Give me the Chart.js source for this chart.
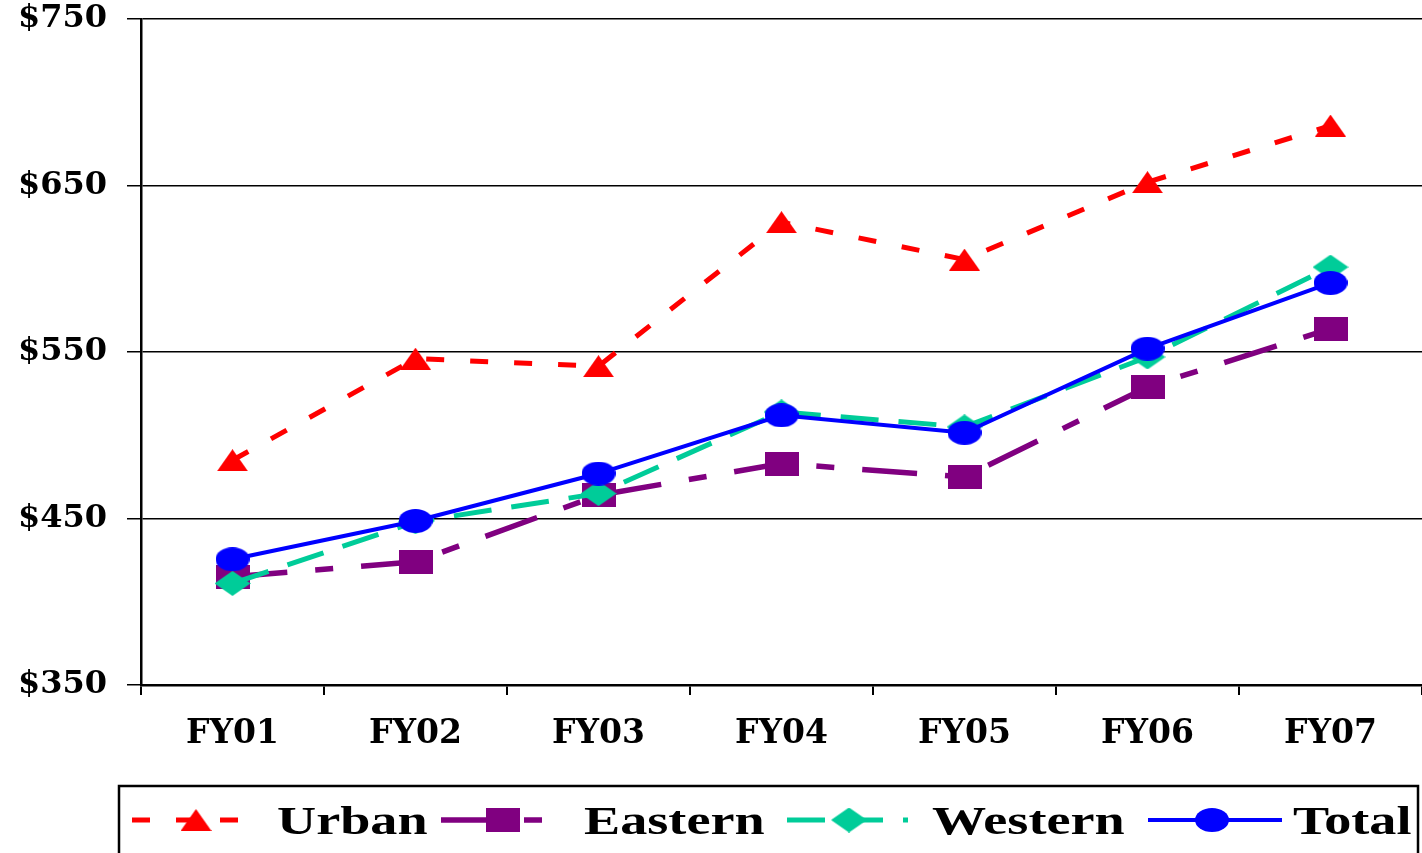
<!DOCTYPE html>
<html><head><meta charset="utf-8">
<script src="https://cdn.jsdelivr.net/npm/chart.js@4"></script>
<style>html,body{margin:0;padding:0;background:#fff;overflow:hidden}canvas{display:block}</style>
</head><body>
<canvas id="c" width="1422" height="853" style="width:1422px;height:853px"></canvas>
<script>
// ---- data ----
const categories = ['FY01','FY02','FY03','FY04','FY05','FY06','FY07'];
const urban   = [485, 546, 541.5, 628, 605.5, 652, 686];
const eastern = [415, 424, 464, 483, 475, 529, 564];
const western = [411, 448, 465, 514, 505, 547, 601];
const total   = [425.5, 448.5, 477, 512, 501.5, 552, 591.5];
const seriesNames = ['Urban','Eastern','Western','Total'];
const yTicks = [350, 450, 550, 650, 750];

// ---- markers ----
function makeMarker(shape, w, h, color){
  const c = document.createElement('canvas'); c.width = w; c.height = h;
  const g = c.getContext('2d'); g.fillStyle = color; g.beginPath();
  if (shape === 'triangle'){ g.moveTo(w/2,0); g.lineTo(w,h); g.lineTo(0,h); }
  else if (shape === 'rect'){ g.rect(0,0,w,h); }
  else if (shape === 'diamond'){ g.moveTo(w/2,0); g.lineTo(w,h/2); g.lineTo(w/2,h); g.lineTo(0,h/2); }
  else { g.ellipse(w/2,h/2,w/2,h/2,0,0,Math.PI*2); }
  g.closePath(); g.fill(); return c;
}
const mTri = makeMarker('triangle', 31, 22, '#FF0000');
const mSq  = makeMarker('rect', 34, 24, '#800080');
const mDia = makeMarker('diamond', 36, 25, '#00CC99');
const mCir = makeMarker('ellipse', 34, 24, '#0000FF');

// legend layout
const LEG = {
  lineStart: [132, 441, 787, 1148],
  lineEnd:   [253, 553, 908, 1282],
  markerX:   [196, 503, 849, 1212],
  textX:     [277, 584, 932, 1293],
  y: 820
};

const legendPlugin = {
  id: 'customLegend',
  afterDraw(chart){
    const ctx = chart.ctx; ctx.save();
    ctx.strokeStyle = '#000'; ctx.lineWidth = 2.5; ctx.setLineDash([]);
    ctx.strokeRect(119, 786, 1299, 90);
    chart.data.datasets.forEach((ds, i) => {
      const y = LEG.y;
      ctx.strokeStyle = ds.borderColor; ctx.lineWidth = ds.borderWidth;
      ctx.setLineDash(ds.borderDash || []);
      ctx.beginPath(); ctx.moveTo(LEG.lineStart[i], y); ctx.lineTo(LEG.lineEnd[i], y); ctx.stroke();
      ctx.setLineDash([]);
      const img = ds.pointStyle;
      ctx.drawImage(img, LEG.markerX[i] - img.width/2, y - img.height/2);
      ctx.save();
      ctx.translate(LEG.textX[i], 834);
      ctx.scale(1.39, 1);
      ctx.font = 'bold 39px "Liberation Serif"';
      ctx.fillStyle = '#000'; ctx.textBaseline = 'alphabetic';
      ctx.fillText(ds.label, 0, 0);
      ctx.restore();
    });
    ctx.restore();
  }
};

const tickFont = {family: 'DejaVu Serif', weight: 'bold', size: 32};

new Chart(document.getElementById('c'), {
  type: 'line',
  data: {
    labels: categories,
    datasets: [
      {label: seriesNames[0], data: urban, borderColor: '#FF0000', backgroundColor: '#FF0000', borderWidth: 5, borderDash: [18, 26], pointStyle: mTri, pointRadius: 12, order: 3, tension: 0, fill: false},
      {label: seriesNames[1], data: eastern, borderColor: '#800080', backgroundColor: '#800080', borderWidth: 5.5, borderDash: [55, 28, 18, 28], pointStyle: mSq, pointRadius: 12, order: 2, tension: 0, fill: false},
      {label: seriesNames[2], data: western, borderColor: '#00CC99', backgroundColor: '#00CC99', borderWidth: 5, borderDash: [38, 20], pointStyle: mDia, pointRadius: 12, order: 1, tension: 0, fill: false},
      {label: seriesNames[3], data: total, borderColor: '#0000FF', backgroundColor: '#0000FF', borderWidth: 4, pointStyle: mCir, pointRadius: 12, order: 0, tension: 0, fill: false}
    ]
  },
  options: {
    responsive: false, animation: false, devicePixelRatio: 1,
    layout: {autoPadding: false, padding: {left: 0, top: 19, right: 0, bottom: 88}},
    plugins: {legend: {display: false}, tooltip: {enabled: false}},
    scales: {
      x: {
        offset: true,
        grid: {offset: true, drawOnChartArea: false, drawTicks: true, tickLength: 10, color: '#000', lineWidth: 2},
        border: {color: '#000', width: 2.5},
        ticks: {font: {family: 'DejaVu Serif', weight: 'bold', size: 33}, color: '#000', padding: 20, maxRotation: 0, autoSkip: false},
        afterFit(s){ s.height = 80; s.paddingLeft = 0; s.paddingRight = 0; }
      },
      y: {
        min: 350, max: 750,
        afterBuildTicks(s){ s.ticks = yTicks.map(v => ({value: v})); },
        grid: {color: '#000', lineWidth: 1.5, tickLength: 14, drawTicks: true},
        border: {color: '#000', width: 2.5},
        ticks: {font: tickFont, color: '#000', padding: 20, callback: v => '$' + v},
        afterFit(s){ s.width = 141; s.paddingTop = 0; s.paddingBottom = 0; }
      }
    }
  },
  plugins: [legendPlugin]
});
</script>
</body></html>
